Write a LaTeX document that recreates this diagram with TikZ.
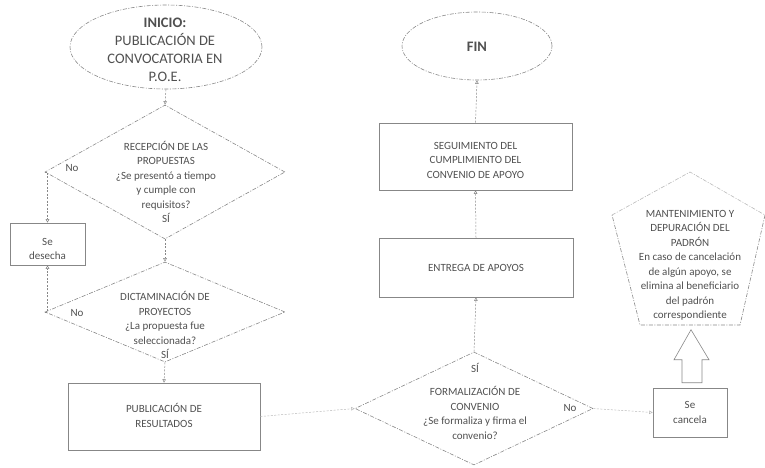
\documentclass[tikz,border=0pt]{standalone}
\usepackage{fontspec}
\setmainfont{Carlito}
\usetikzlibrary{shapes.geometric,arrows.meta,calc}
\definecolor{ln}{RGB}{135,135,135}
\definecolor{lnf}{RGB}{185,185,185}
\definecolor{tx}{RGB}{80,80,80}
\tikzset{
  shp/.style={draw=ln, line width=0.6pt, dash pattern=on 4pt off 1.5pt on 1pt off 1.5pt},
  boxn/.style={draw=ln, line width=0.6pt, rectangle, inner sep=0pt},
  dia/.style={shp, diamond, inner sep=0pt},
  ell/.style={shp, ellipse, inner sep=0pt},
  txt/.style={text=tx, align=center, inner sep=0pt, font=\fontsize{11}{14.5}\selectfont},
  bigtxt/.style={text=tx, align=center, inner sep=0pt, font=\fontsize{14.5}{18}\selectfont},
  conn/.style={draw=ln, line width=0.5pt, dash pattern=on 2pt off 1.5pt, -{Triangle[open,length=3.5pt,width=3.5pt]}},
  connf/.style={conn, draw=lnf},
  lab/.style={text=tx, inner sep=0pt, font=\fontsize{11}{12}\selectfont}
}
\begin{document}
\begin{tikzpicture}[x=1pt,y=-1pt]
\useasboundingbox (0,0) rectangle (765,467);
% start
\node[ell, minimum width=192pt, minimum height=84pt] (ini) at (166,47) {};
\node[bigtxt] (init) at (165,50) {\textbf{INICIO:}\\PUBLICACIÓN DE\\CONVOCATORIA EN\\P.O.E.};
% decision 1
\node[dia, minimum width=240pt, minimum height=134pt] (d1) at (165,172) {};
\node[txt] (d1t) at (166,182) {RECEPCIÓN DE LAS\\PROPUESTAS\\¿Se presentó a tiempo\\y cumple con\\requisitos?\\SÍ};
% reject box
\node[boxn, minimum width=75pt, minimum height=42pt] (des) at (47.5,244) {};
\node[txt] (dest) at (47.5,249) {Se\\desecha};
% decision 2
\node[dia, minimum width=240pt, minimum height=100pt] (d2) at (165,312) {};
\node[txt] (d2t) at (165,325) {DICTAMINACIÓN DE\\PROYECTOS\\¿La propuesta fue\\seleccionada?\\SÍ};
% publication box
\node[boxn, minimum width=192pt, minimum height=67pt] (pub) at (164,416.5) {};
\node[txt] (pubt) at (164,415.5) {PUBLICACIÓN DE\\RESULTADOS};
% decision 3
\node[dia, minimum width=238pt, minimum height=113pt] (d3) at (474,408.5) {};
\node[txt] (d3s) at (475,368) {SÍ};
\node[txt] (d3t) at (475,413) {FORMALIZACIÓN DE\\CONVENIO\\¿Se formaliza y firma el\\convenio?};
% delivery box
\node[boxn, minimum width=194pt, minimum height=59pt] (ent) at (476,267.5) {};
\node[txt] (entt) at (476,268) {ENTREGA DE APOYOS};
% follow-up box
\node[boxn, minimum width=193pt, minimum height=67pt] (seg) at (475.5,156.5) {};
\node[txt] (segt) at (475.5,160) {SEGUIMIENTO DEL\\CUMPLIMIENTO DEL\\CONVENIO DE APOYO};
% end
\node[ell, minimum width=150pt, minimum height=68pt] (fin) at (477,46) {};
\node[bigtxt] (fint) at (477,47) {\textbf{FIN}};
% cancel box
\node[boxn, minimum width=74pt, minimum height=49pt] (can) at (690,412.5) {};
\node[txt] (cant) at (690,412.5) {Se\\cancela};
% pentagon
\coordinate (p1) at (690,172);
\coordinate (p2) at (765,215);
\coordinate (p3) at (740,325);
\coordinate (p4) at (640,325);
\coordinate (p5) at (612,215);
\draw[shp, draw=lnf] (p5) -- (p1) -- (p2);
\draw[shp] (p2) -- (p3) -- (p4) -- (p5);
\node[txt] (pent) at (690,265.5) {MANTENIMIENTO Y\\DEPURACIÓN DEL\\PADRÓN\\En caso de cancelación\\de algún apoyo, se\\elimina al beneficiario\\del padrón\\correspondiente};
% block arrow
\coordinate (ba) at (can.north);
\draw[boxn, draw=ln] ($(ba)+(-8,-5)$) -- ($(ba)+(-8,-28)$) -- ($(ba)+(-16,-28)$) -- ($(ba)+(1,-58)$)
  -- ($(ba)+(19,-28)$) -- ($(ba)+(12,-28)$) -- ($(ba)+(12,-5)$) -- cycle;
% connectors
\draw[conn] (ini.south) -- (d1.north);
\draw[conn] (d1.south) -- (d2.north);
\draw[conn] (d1.west) -| (des.north);
\draw[conn] (d2.west) -| (des.south);
\draw[conn] (d2.south) -- (pub.north);
\draw[connf] (pub.east) -- (d3.west);
\draw[conn] (d3.north) -- (ent.south);
\draw[conn] (ent.north) -- (seg.south);
\draw[conn] (seg.north) -- (fin.south);
\draw[connf] (d3.east) -- (can.west);
% labels
\node[lab] (no1) at (72,168) {No};
\node[lab] (no2) at (77,313) {No};
\node[lab] (no3) at (570,408) {No};
\end{tikzpicture}
\end{document}
